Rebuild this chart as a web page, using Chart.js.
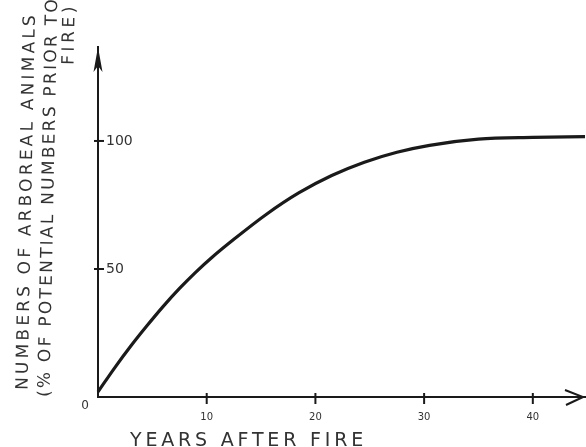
<!DOCTYPE html>
<html>
<head>
<meta charset="utf-8">
<script src="https://cdn.jsdelivr.net/npm/chart.js@4"></script>
<style>
  body { margin: 0; background: #fff; }
  #wrap { width: 586px; height: 447px; }
</style>
</head>
<body>
<div id="wrap"><canvas id="myChart"></canvas></div>
<script>
// values
const years = [0, 1.5, 3, 4.5, 6, 7.5, 9, 10.5, 12.5, 15.5, 18.5, 21.5, 24.5, 27.5, 30.5, 35, 40, 44.8];
const animals = [2, 11.2, 19.8, 27.8, 35.4, 42.4, 48.8, 54.6, 61.6, 71.4, 79.8, 86.5, 91.7, 95.6, 98.3, 100.7, 101.4, 101.7];
const xTicks = [10, 20, 30, 40];
const yTicks = [50, 100];
const yTitle = ["NUMBERS OF ARBOREAL ANIMALS", "(% OF POTENTIAL NUMBERS PRIOR TO", "FIRE)"];
const xTitle = "YEARS AFTER FIRE";

const ink = "#1a1a1a";
const textInk = "#333333";
const hand = "'DejaVu Sans', sans-serif";

// spread text out to a given length, like hand lettering
function stretchText(ctx, text, x, y, len) {
  ctx.letterSpacing = "0px";
  const w = ctx.measureText(text).width;
  if ("letterSpacing" in ctx) {
    ctx.letterSpacing = Math.max(0, (len - w) / text.length) + "px";
  }
  ctx.fillText(text, x, y);
  ctx.letterSpacing = "0px";
}

const sketchAxes = {
  id: "sketchAxes",
  afterDraw(chart) {
    const {ctx, scales: {x, y}} = chart;
    const x0 = x.getPixelForValue(0);
    const y0 = y.getPixelForValue(0);
    ctx.save();
    ctx.strokeStyle = ink;
    ctx.fillStyle = ink;
    ctx.lineWidth = 2;

    // tick marks crossing the axes
    xTicks.forEach(v => {
      const px = x.getPixelForValue(v);
      ctx.beginPath(); ctx.moveTo(px, y0 - 4); ctx.lineTo(px, y0 + 7); ctx.stroke();
    });
    yTicks.forEach(v => {
      const py = y.getPixelForValue(v);
      ctx.beginPath(); ctx.moveTo(x0 - 4, py); ctx.lineTo(x0 + 6, py); ctx.stroke();
    });

    // arrow heads
    const top = y.getPixelForValue(y.max);
    ctx.beginPath();
    ctx.moveTo(x0, top);
    ctx.lineTo(x0 - 4.5, top + 25);
    ctx.lineTo(x0, top + 19);
    ctx.lineTo(x0 + 4.5, top + 25);
    ctx.closePath();
    ctx.fill();
    const right = x.getPixelForValue(x.max);
    ctx.beginPath();
    ctx.moveTo(right - 20, y0 - 7);
    ctx.lineTo(right - 2, y0);
    ctx.lineTo(right - 19, y0 + 8);
    ctx.stroke();

    // origin label
    ctx.fillStyle = textInk;
    ctx.font = "12px " + hand;
    ctx.textAlign = "center";
    ctx.textBaseline = "middle";
    ctx.fillText("0", x0 - 13, y0 + 9);

    // x title
    ctx.font = "19px " + hand;
    ctx.textAlign = "left";
    ctx.textBaseline = "alphabetic";
    stretchText(ctx, xTitle, 130, 446, 237);

    // y title, three lines written bottom to top
    ctx.font = "17px " + hand;
    ctx.textBaseline = "middle";
    const lines = [
      {x: 23, y: 390, len: 378},
      {x: 45, y: 397, len: 400},
      {x: 69, y: 65, len: 62}
    ];
    yTitle.forEach((t, i) => {
      const l = lines[i];
      ctx.save();
      ctx.translate(l.x, l.y);
      ctx.rotate(-Math.PI / 2 + 0.02);
      stretchText(ctx, t, 0, 0, l.len);
      ctx.restore();
    });
    ctx.restore();
  }
};

const data = {
  datasets: [{
    data: years.map((v, i) => ({x: v, y: animals[i]})),
    borderColor: ink,
    borderWidth: 3.2,
    pointRadius: 0,
    cubicInterpolationMode: "monotone",
    clip: false
  }]
};

const config = {
  type: "line",
  data: data,
  options: {
    responsive: true,
    maintainAspectRatio: false,
    animation: false,
    layout: {
      padding: {left: 82, top: 47, right: 1, bottom: 10}
    },
    scales: {
      x: {
        type: "linear",
        min: 0,
        max: 44.8,
        afterBuildTicks: s => { s.ticks = xTicks.map(v => ({value: v})); },
        grid: {display: false, drawTicks: false},
        border: {display: true, color: ink, width: 2},
        ticks: {
          color: textInk,
          padding: 14,
          font: {family: hand, size: 10}
        }
      },
      y: {
        min: 0,
        max: 136.7,
        afterBuildTicks: s => { s.ticks = yTicks.map(v => ({value: v})); },
        grid: {display: false, drawTicks: false},
        border: {display: true, color: ink, width: 2},
        ticks: {
          mirror: true,
          padding: 8,
          color: textInk,
          font: {family: hand, size: 14}
        }
      }
    },
    plugins: {
      legend: {display: false},
      tooltip: {enabled: false}
    }
  },
  plugins: [sketchAxes]
};

const myChart = new Chart(document.getElementById("myChart"), config);
</script>
</body>
</html>
